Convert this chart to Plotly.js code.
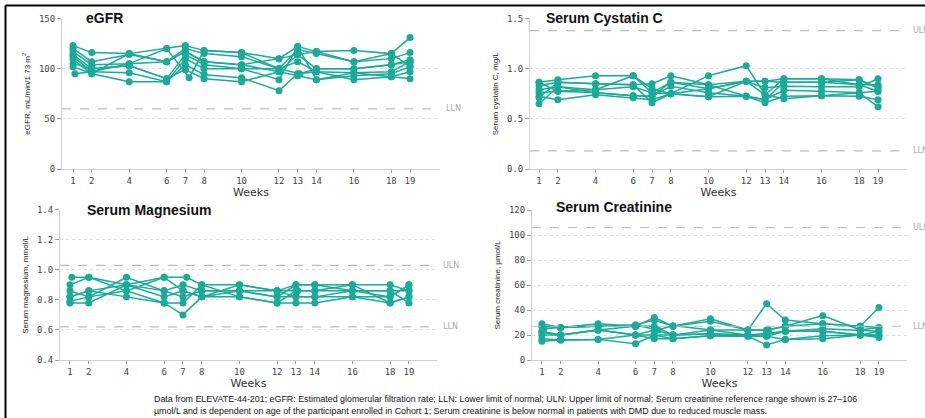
<!DOCTYPE html>
<html>
<head>
<meta charset="utf-8">
<script src="https://cdn.plot.ly/plotly-3.0.1.min.js"></script>
<style>
  html, body { margin: 0; padding: 0; background: #fff; }
  #chart { width: 925px; height: 418px; }
</style>
</head>
<body>
<div id="chart"></div>
<script>
// ---- Data ----
const weekTicks = [1, 2, 4, 6, 7, 8, 10, 12, 13, 14, 16, 18, 19];
const visitWeeksA = [1, 2, 4, 6, 7, 8, 10, 12, 13, 14, 16, 18, 19];
const visitWeeksB = [1.1, 2, 4, 6, 7.2, 8, 10, 12, 13.1, 14, 16, 18, 19];

const egfrValues = [
  [123, 116, 115, 120, 123, 118, 116, 110, 122, 117, 118, 115, 131],
  [120, 107, 114, 107, 120, 115, 112, 100, 119, 115, 107, 110, 116],
  [117, 104, 105, 107, 117, 107, 104, 97, 114, 100, 100, 104, 109],
  [114, 100, 103, 90, 114, 104, 100, 100, 107, 97, 96, 97, 107],
  [112, 97, 96, 87, 110, 100, 100, 89, 122, 89, 93, 95, 102],
  [109, 95, 87, 87, 104, 94, 91, 78, 95, 97, 89, 92, 97],
  [105, 100, 103, 90, 99, 90, 87, 97, 93, 89, 96, 92, 90],
  [102, 95, 115, 107, 117, 107, 104, 110, 114, 117, 107, 115, 102],
  [95, 97, 105, 120, 91, 118, 116, 100, 95, 100, 100, 104, 107]
];
const egfrSchedule = ['A', 'A', 'A', 'A', 'A', 'A', 'A', 'A', 'B'];

const cystatinValues = [
  [0.865, 0.89, 0.93, 0.93, 0.80, 0.75, 0.93, 1.03, 0.74, 0.90, 0.90, 0.89, 0.81],
  [0.83, 0.865, 0.85, 0.84, 0.85, 0.93, 0.84, 0.875, 0.875, 0.865, 0.865, 0.84, 0.84],
  [0.79, 0.82, 0.79, 0.82, 0.76, 0.865, 0.80, 0.875, 0.81, 0.825, 0.82, 0.82, 0.90],
  [0.76, 0.775, 0.76, 0.73, 0.725, 0.825, 0.76, 0.725, 0.69, 0.785, 0.775, 0.76, 0.775],
  [0.725, 0.69, 0.74, 0.71, 0.69, 0.75, 0.72, 0.725, 0.66, 0.725, 0.73, 0.725, 0.69],
  [0.71, 0.865, 0.85, 0.84, 0.66, 0.75, 0.80, 0.875, 0.74, 0.70, 0.73, 0.76, 0.62],
  [0.65, 0.82, 0.76, 0.73, 0.725, 0.865, 0.84, 0.725, 0.69, 0.865, 0.865, 0.89, 0.81],
  [0.865, 0.775, 0.79, 0.93, 0.76, 0.75, 0.72, 0.875, 0.875, 0.90, 0.90, 0.84, 0.775]
];
const cystatinSchedule = ['A', 'A', 'A', 'A', 'A', 'A', 'A', 'A'];

const magnesiumValues = [
  [0.90, 0.95, 0.90, 0.86, 0.82, 0.86, 0.86, 0.82, 0.90, 0.90, 0.90, 0.90, 0.86],
  [0.95, 0.95, 0.86, 0.95, 0.95, 0.90, 0.90, 0.86, 0.86, 0.86, 0.86, 0.86, 0.78],
  [0.86, 0.82, 0.95, 0.86, 0.90, 0.86, 0.86, 0.82, 0.82, 0.82, 0.82, 0.82, 0.90],
  [0.82, 0.86, 0.82, 0.78, 0.70, 0.82, 0.82, 0.78, 0.78, 0.78, 0.82, 0.78, 0.82],
  [0.78, 0.78, 0.90, 0.82, 0.86, 0.82, 0.86, 0.86, 0.90, 0.90, 0.86, 0.82, 0.90],
  [0.79, 0.82, 0.86, 0.78, 0.78, 0.90, 0.82, 0.78, 0.86, 0.86, 0.90, 0.78, 0.82],
  [0.82, 0.86, 0.90, 0.95, 0.86, 0.82, 0.90, 0.86, 0.82, 0.82, 0.86, 0.86, 0.86]
];
const magnesiumSchedule = ['A', 'B', 'A', 'A', 'A', 'A', 'A'];

const creatinineValues = [
  [29, 26, 29, 27, 34, 27, 33, 24, 45, 32, 29, 27, 42],
  [27, 26, 27, 28, 32, 27, 31, 24, 24, 27, 35.5, 24, 26],
  [23, 20, 24, 27, 27, 20, 24, 20, 21, 23, 25, 24, 23],
  [20, 20, 24, 20, 24, 20, 21, 20, 19, 23, 23, 20, 20],
  [17, 16, 16.5, 20, 17, 17, 19.5, 19, 12, 16.5, 19.5, 20, 18],
  [15, 16, 16.5, 13, 20, 17, 19.5, 19, 19, 16.5, 17, 20, 20],
  [22, 20, 24, 20, 20, 20, 21, 20, 21, 23, 23, 20, 23],
  [25, 26, 27, 28, 24, 27.5, 24, 24, 24, 27, 29, 27, 26]
];
const creatinineSchedule = ['A', 'A', 'A', 'A', 'A', 'A', 'A', 'B'];

const panelTitles = ['eGFR', 'Serum Cystatin C', 'Serum Magnesium', 'Serum Creatinine'];
const yTitles = ['eGFR, mL/min/1.73 m<sup>2</sup>', 'Serum cystatin C, mg/L',
                 'Serum magnesium, mmol/L', 'Serum creatinine, \u00b5mol/L'];
const refLines = [
  [{ v: 60, label: 'LLN' }],
  [{ v: 1.38, label: 'ULN' }, { v: 0.18, label: 'LLN' }],
  [{ v: 1.03, label: 'ULN' }, { v: 0.62, label: 'LLN' }],
  [{ v: 106, label: 'ULN' }, { v: 27, label: 'LLN' }]
];
const footnote = 'Data from ELEVATE-44-201; eGFR: Estimated glomerular filtration rate; LLN: Lower limit of normal; ULN: Upper limit of normal; Serum creatinine reference range shown is 27\u2013106<br>\u00b5mol/L and is dependent on age of the participant enrolled in Cohort 1; Serum creatinine is below normal in patients with DMD due to reduced muscle mass.';

// ---- Build ----
const W = 925, H = 418;
const teal = '#17ab98';
const px = v => v / W;
const py = v => 1 - v / H;

const panels = [
  { vals: egfrValues, sched: egfrSchedule, xd: [62, 440], yd: [18.5, 169], yr: [0, 150], dt: 50, fmt: '', xr: [0.41, 20.6], tx: 84, ty: 18 },
  { vals: cystatinValues, sched: cystatinSchedule, xd: [530, 907], yd: [18.5, 169], yr: [0, 1.5], dt: 0.5, fmt: '.1f', xr: [0.52, 20.54], tx: 544, ty: 18 },
  { vals: magnesiumValues, sched: magnesiumSchedule, xd: [60, 437], yd: [209.7, 360], yr: [0.4, 1.4], dt: 0.2, fmt: '.1f', xr: [0.47, 20.49], tx: 85, ty: 210 },
  { vals: creatinineValues, sched: creatinineSchedule, xd: [532, 907], yd: [210, 360], yr: [0, 120], dt: 20, fmt: '', xr: [0.47, 20.5], tx: 554, ty: 207 }
];

const traces = [];
const layout = {
  width: W, height: H,
  margin: { l: 0, r: 0, t: 0, b: 0 },
  paper_bgcolor: '#fff', plot_bgcolor: '#fff',
  showlegend: false,
  shapes: [], annotations: []
};

panels.forEach((p, i) => {
  const n = i === 0 ? '' : String(i + 1);
  const xa = 'x' + n, ya = 'y' + n;
  p.vals.forEach((row, j) => {
    traces.push({
      type: 'scatter', mode: 'lines+markers',
      x: p.sched[j] === 'B' ? visitWeeksB : visitWeeksA,
      y: row,
      xaxis: xa, yaxis: ya,
      line: { color: teal, width: 1.5 },
      marker: { color: teal, size: 7 },
      hoverinfo: 'skip'
    });
  });
  layout['xaxis' + n] = {
    domain: [px(p.xd[0]), px(p.xd[1])],
    anchor: ya,
    range: p.xr,
    tickmode: 'array', tickvals: weekTicks, ticktext: weekTicks.map(String),
    showline: true, linecolor: '#cfcfcf', linewidth: 1,
    ticks: 'outside', ticklen: 3, tickcolor: '#9a9a9a',
    tickfont: { family: 'DejaVu Sans Mono', size: 9, color: '#444' },
    showgrid: false, zeroline: false, fixedrange: true,
    title: { text: 'Weeks', font: { family: 'DejaVu Sans', size: 11, color: '#333' }, standoff: 0 }
  };
  layout['yaxis' + n] = {
    domain: [py(p.yd[1]), py(p.yd[0])],
    anchor: xa,
    range: p.yr, dtick: p.dt, tick0: 0, tickformat: p.fmt,
    showline: true, linecolor: '#cfcfcf', linewidth: 1,
    ticks: 'outside', ticklen: 4, tickcolor: '#9a9a9a',
    tickfont: { family: 'DejaVu Sans Mono', size: 9, color: '#444' },
    showgrid: true, gridcolor: '#dedede', griddash: 'dot', gridwidth: 1,
    zeroline: false, fixedrange: true,
    title: { text: yTitles[i], font: { family: 'Liberation Sans Narrow, Arial Narrow, Liberation Sans', size: 8, color: '#222' }, standoff: 7 }
  };
  refLines[i].forEach(r => {
    layout.shapes.push({
      type: 'line', xref: xa + ' domain', yref: ya,
      x0: 0, x1: 1, y0: r.v, y1: r.v,
      line: { color: '#bdbdbd', width: 1.2, dash: 'dash' }
    });
    layout.annotations.push({
      xref: xa + ' domain', yref: ya, x: 1.01, y: r.v,
      xanchor: 'left', yanchor: 'middle', showarrow: false,
      text: r.label, font: { family: 'DejaVu Sans', size: 8, color: '#aaaaaa' }
    });
  });
  layout.annotations.push({
    xref: 'paper', yref: 'paper', x: px(p.tx), y: py(p.ty),
    xanchor: 'left', yanchor: 'middle', showarrow: false,
    text: '<b>' + panelTitles[i] + '</b>', bgcolor: '#fff',
    font: { family: 'Liberation Sans', size: 14, color: '#111' }
  });
});

// footnote
layout.annotations.push({
  xref: 'paper', yref: 'paper', x: px(152), y: py(405),
  xanchor: 'left', yanchor: 'middle', align: 'left', showarrow: false,
  text: footnote,
  font: { family: 'Liberation Sans', size: 8.9, color: '#111' }
});
// frame (left + top rules)
layout.shapes.push(
  { type: 'line', xref: 'paper', yref: 'paper', x0: px(5.5), x1: px(5.5), y0: 0, y1: py(5.5), line: { color: '#000', width: 2 } },
  { type: 'line', xref: 'paper', yref: 'paper', x0: px(5.5), x1: 1, y0: py(5.5), y1: py(5.5), line: { color: '#000', width: 2 } }
);

Plotly.newPlot('chart', traces, layout, { displayModeBar: false, staticPlot: true });
</script>
</body>
</html>
